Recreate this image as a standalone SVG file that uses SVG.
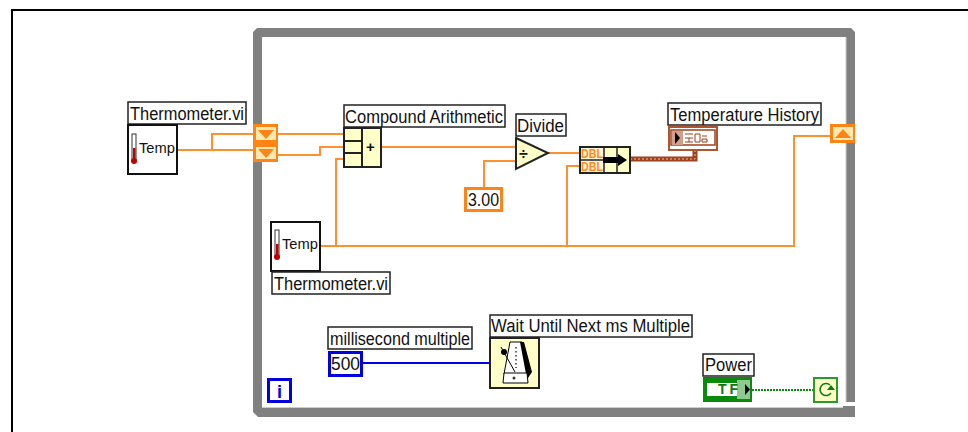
<svg xmlns="http://www.w3.org/2000/svg" width="968" height="432" viewBox="0 0 968 432">
<defs><style>
text{font-family:"Liberation Sans",Arial,sans-serif;font-size:18px;fill:#111}
.lb{fill:#fff;stroke:#222;stroke-width:1.500}
.ic{fill:#fff;stroke:#111;stroke-width:2}
.y{fill:#ffffc8;stroke:#222;stroke-width:2}
.o{fill:none;stroke:#ff9030;stroke-width:2}
.t{fill:#ff8414}
.tp{font-size:15px}
.d{font-size:12px;font-weight:bold;fill:#ff8a1e}
</style></defs>
<rect width="968" height="432" fill="#fff"/>
<path d="M12 432V10H968" fill="none" stroke="#000" stroke-width="2"/>
<g id="loop"><path fill-rule="evenodd" fill="#808080" d="M257 28H851L855 32V402H846V37H262V408H855V417H258L253 412V32ZM843 405V408H855V405Z"/><path d="M846 37V402M262 407.500H843" fill="none" stroke="#ccc" stroke-width="1"/><rect x="843" y="403" width="13" height="3" fill="#fff"/></g>
<g id="connectors">
<path class="o" d="M177 150H253M212 150V134H253M278 134H343M278 155H320V147H343M381 147H515M484 187V161H515M548 153H580M336 246V159H343M321 246H794V136H830M567 246V166H580"/>
<path d="M363 363H490" fill="none" stroke="#0000e0" stroke-width="2"/>
<path d="M752 390H813" fill="none" stroke="#0a8a0a" stroke-width="2" stroke-dasharray="2 1"/>
<path d="M630 159H695V150" fill="none" stroke="#a0401c" stroke-width="5"/>
<path d="M630 159H695V150" fill="none" stroke="#f0c8a0" stroke-width="1" stroke-dasharray="2 2"/>
</g>
<g id="thermometer1"><rect class="lb" x="128" y="102" width="118" height="22"/><text x="130" y="120" textLength="114" lengthAdjust="spacingAndGlyphs">Thermometer.vi</text><rect class="ic" x="128" y="125" width="49" height="49"/><rect x="132" y="134" width="4" height="27" fill="#fff" stroke="#333"/><rect x="133" y="148" width="2.500" height="14" fill="#c00000"/><circle cx="134" cy="161" r="3" fill="#c00000"/><text class="tp" x="139" y="153" textLength="36" lengthAdjust="spacingAndGlyphs">Temp</text></g>
<g id="tunnel-left"><rect class="t" x="253" y="124" width="25" height="38"/><rect x="256" y="127" width="20" height="13" fill="#ffe9b0"/><rect x="256" y="147" width="20" height="12" fill="#ffe9b0"/><path d="M258 130H274L266 139ZM258 149H274L266 158Z" fill="#ff8414"/></g>
<g id="compound"><rect class="lb" x="344" y="105" width="161" height="22"/><text x="345" y="123" textLength="158" lengthAdjust="spacingAndGlyphs">Compound Arithmetic</text><rect class="y" x="344" y="128" width="37" height="39"/><path d="M362 128V167M344 141H362M344 153H362" stroke="#222" stroke-width="2" fill="none"/><text x="366" y="152" style="font-size:15px;font-weight:bold">+</text></g>
<g id="divide"><rect class="lb" x="516" y="114" width="50" height="22"/><text x="517" y="132" textLength="47" lengthAdjust="spacingAndGlyphs">Divide</text><path class="y" d="M516 138L548 153L516 169Z"/><text x="519" y="159" style="font-size:16px;font-weight:bold">÷</text></g>
<g id="const3"><rect x="465.500" y="188.500" width="36" height="22" fill="#fff" stroke="#ff8414" stroke-width="3"/><text x="468" y="206" textLength="31" lengthAdjust="spacingAndGlyphs">3.00</text></g>
<g id="bundle"><rect class="y" x="580" y="147" width="50" height="26"/><rect x="581" y="148" width="23" height="24" fill="#fff6d8"/><path d="M604 147V173M617 147V173M580 160H604" stroke="#222" stroke-width="1.500" fill="none"/><text class="d" x="581" y="158" textLength="22" lengthAdjust="spacingAndGlyphs">DBL</text><text class="d" x="581" y="171" textLength="22" lengthAdjust="spacingAndGlyphs">DBL</text><path d="M603 157H618V154L627 160L618 166V163H603Z" fill="#000"/></g>
<g id="history"><rect class="lb" x="668" y="103" width="153" height="22"/><text x="670" y="121" textLength="149" lengthAdjust="spacingAndGlyphs">Temperature History</text><rect x="669" y="127" width="48" height="23" fill="#fff" stroke="#b0562e" stroke-width="2"/><rect x="671" y="130" width="44" height="15" fill="#fff" stroke="#a0401c" stroke-width="1.500"/><rect x="672" y="131" width="11" height="14" fill="#d0a088"/><path d="M675 132L680 138L675 144Z" fill="#000"/><path d="M685 134H693M685 138H693M689 138V142M685 142H693M695 134H700V142H695ZM702 136H707M702 139H707V142H702Z" fill="none" stroke="#a0401c"/></g>
<g id="tunnel-right"><rect class="t" x="830" y="124" width="25" height="19"/><rect x="833" y="127" width="20" height="13" fill="#ffe9b0"/><path d="M835 138H851L843 129Z" fill="#ff8414"/></g>
<g id="thermometer2"><rect class="ic" x="271" y="222" width="49" height="49"/><rect x="275" y="230" width="4" height="27" fill="#fff" stroke="#333"/><rect x="276" y="244" width="2.500" height="14" fill="#c00000"/><circle cx="277" cy="257" r="3" fill="#c00000"/><text class="tp" x="282" y="249" textLength="36" lengthAdjust="spacingAndGlyphs">Temp</text><rect class="lb" x="272" y="272" width="118" height="22"/><text x="274" y="290" textLength="114" lengthAdjust="spacingAndGlyphs">Thermometer.vi</text></g>
<g id="ms"><rect class="lb" x="328" y="327" width="144" height="22"/><text x="330" y="345" textLength="140" lengthAdjust="spacingAndGlyphs">millisecond multiple</text><rect x="329.500" y="352.500" width="32" height="23" fill="#fff" stroke="#0000e0" stroke-width="3"/><text x="331" y="370" textLength="29" lengthAdjust="spacingAndGlyphs">500</text></g>
<g id="wait"><rect class="lb" x="490" y="315" width="202" height="22"/><text x="491" y="332" textLength="199" lengthAdjust="spacingAndGlyphs">Wait Until Next ms Multiple</text><rect class="y" x="490" y="338" width="49" height="50"/><path d="M510 342H522L527 374H504Z" fill="#fff" stroke="#000"/><path d="M520 342H524L532 372L528 378L526 374Z" fill="#000"/><path d="M501 347L515 372" stroke="#000" stroke-width="1"/><circle cx="504" cy="352" r="3" fill="#000"/><path d="M516 347V368" stroke="#333" stroke-width="1.500" stroke-dasharray="1.500 2.500"/><path d="M504 373H527L528 383H503Z" fill="#fff" stroke="#000"/><circle cx="514" cy="378" r="1.500" fill="#333"/></g>
<g id="iter"><rect x="268.500" y="379.500" width="22" height="22" fill="#fff" stroke="#0000e0" stroke-width="3"/><text x="277" y="398" style="fill:#0000e0;font-weight:bold">i</text></g>
<g id="power"><rect class="lb" x="703" y="354" width="51" height="22"/><text x="705" y="371" textLength="47" lengthAdjust="spacingAndGlyphs">Power</text><rect x="703" y="377" width="49" height="25" fill="#0a8a0a"/><rect x="707" y="383" width="41" height="13" fill="#fff"/><rect x="737" y="380" width="13" height="19" fill="#8fc98f"/><text x="718" y="394" textLength="20" style="font-size:14px;font-weight:bold;fill:#0a7a0a">TF</text><path d="M745 384L750 389.500L745 395Z" fill="#000"/></g>
<g id="stop"><rect x="814" y="378" width="23" height="24" fill="#ffffc8" stroke="#2a9a2a" stroke-width="2"/><path d="M830 385A6 6 0 1 0 831 393" fill="none" stroke="#0a7a0a" stroke-width="1.500"/><path d="M827 390H835L831 385Z" fill="#0a7a0a"/></g>
</svg>
